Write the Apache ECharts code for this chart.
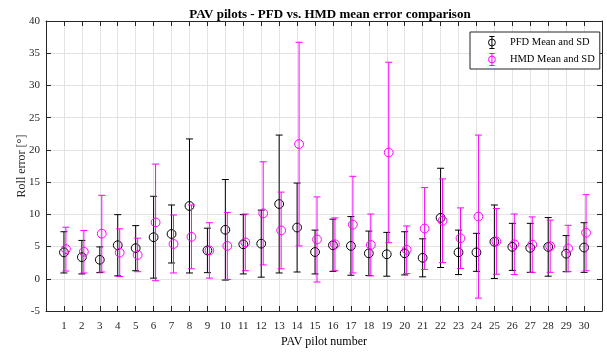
<!DOCTYPE html>
<html>
<head>
<meta charset="utf-8">
<script src="https://cdn.jsdelivr.net/npm/echarts@6/dist/echarts.min.js"></script>
<style>
  html, body { margin: 0; padding: 0; background: #fff; }
  #chart { width: 607px; height: 353px; }
</style>
</head>
<body>
<div id="chart"></div>
<script>
// pilot numbers and per-pilot mean / SD
const pilots = [1,2,3,4,5,6,7,8,9,10,11,12,13,14,15,16,17,18,19,20,21,22,23,24,25,26,27,28,29,30]
const pfdMean = [4.1,3.35,2.95,5.2,4.75,6.45,6.95,11.3,4.4,7.6,5.35,5.45,11.6,7.95,4.15,5.2,5.1,3.95,3.8,3.95,3.25,9.45,4.1,4.1,5.75,4.95,4.8,4.95,3.9,4.85]
const pfdSd = [3.2,2.6,2.0,4.75,3.5,6.35,4.5,10.4,3.45,7.8,4.6,5.2,10.7,6.9,3.4,4.05,4.55,3.45,3.4,3.35,2.95,7.7,3.45,2.95,5.7,3.65,3.8,4.55,2.8,3.85]
const hmdMean = [4.6,4.2,7.0,4.05,3.7,8.75,5.4,6.5,4.4,5.1,5.65,10.15,7.5,20.9,6.1,5.35,8.4,5.25,19.6,4.5,7.8,9.0,6.3,9.65,5.8,5.35,5.3,5.05,4.7,7.15]
const hmdSd = [3.4,3.3,5.95,3.7,2.6,9.05,4.5,4.95,4.3,5.2,4.4,8.0,5.95,15.8,6.6,4.1,7.5,4.8,14.0,3.7,6.35,6.5,4.7,12.65,5.1,4.7,4.3,4.05,3.6,5.9]
const yTicks = [-5,0,5,10,15,20,25,30,35,40]

const serif = '"Liberation Serif", "Times New Roman", serif'
const axisColor = '#262626'

// circle + vertical error bar with caps
function errorRender(color, offset) {
  return function (params, api) {
    const x = api.value(0) + offset
    const m = api.value(1), s = api.value(2)
    const hi = api.coord([x, m + s])
    const lo = api.coord([x, m - s])
    const mid = api.coord([x, m])
    const cap = 3.5
    const st = { stroke: color, lineWidth: 1, fill: null }
    return {
      type: 'group',
      children: [
        { type: 'line', shape: { x1: hi[0], y1: hi[1], x2: lo[0], y2: lo[1] }, style: st },
        { type: 'line', shape: { x1: hi[0] - cap, y1: hi[1], x2: hi[0] + cap, y2: hi[1] }, style: st },
        { type: 'line', shape: { x1: lo[0] - cap, y1: lo[1], x2: lo[0] + cap, y2: lo[1] }, style: st },
        { type: 'circle', shape: { cx: mid[0], cy: mid[1], r: 4.4 }, style: { stroke: color, lineWidth: 1, fill: 'none' } }
      ]
    }
  }
}

const iconPath = 'path://M2,0L8,0M5,0L5,14M2,14L8,14M9,7A4,4,0,1,1,1,7A4,4,0,1,1,9,7'

const chart = echarts.init(document.getElementById('chart'))
const option = {
  animation: false,
  title: {
    text: 'PAV pilots - PFD vs. HMD mean error comparison',
    left: 325, top: 3, textAlign: 'center',
    textStyle: { fontFamily: serif, fontSize: 13, fontWeight: 'bold', color: '#000' }
  },
  legend: {
    orient: 'vertical',
    left: 470, top: 32,
    backgroundColor: '#fff',
    borderColor: axisColor, borderWidth: 1,
    padding: [2, 5, 1, 16],
    itemGap: 0, itemWidth: 10, itemHeight: 12,
    textStyle: { fontFamily: serif, fontSize: 10.5, lineHeight: 11, color: '#000', padding: [0, 0, 0, 8] },
    data: [
      { name: 'PFD Mean and SD', icon: iconPath, itemStyle: { color: 'none', borderColor: '#000', borderWidth: 1 } },
      { name: 'HMD Mean and SD', icon: iconPath, itemStyle: { color: 'none', borderColor: '#ff00ff', borderWidth: 1 } }
    ]
  },
  grid: { left: 46, right: 5, top: 21, bottom: 40 },
  xAxis: [
    {
      type: 'value', min: 0, max: 31, interval: 1,
      name: 'PAV pilot number', nameLocation: 'middle', nameGap: 25, nameMoveOverlap: false,
      nameTextStyle: { fontFamily: serif, fontSize: 12, color: '#000' },
      axisLine: { onZero: false, lineStyle: { color: axisColor } },
      axisTick: { inside: true, length: 5, lineStyle: { color: axisColor } },
      axisLabel: {
        fontFamily: serif, fontSize: 11, color: axisColor, margin: 10,
        formatter: v => (pilots.includes(v) ? String(v) : '')
      },
      splitLine: { show: true, lineStyle: { color: '#e3e3e3' } }
    },
    {
      type: 'value', min: 0, max: 31, interval: 1, position: 'top',
      axisLine: { onZero: false, lineStyle: { color: axisColor } },
      axisTick: { inside: true, length: 5, lineStyle: { color: axisColor } },
      axisLabel: { show: false }, splitLine: { show: false }
    }
  ],
  yAxis: [
    {
      type: 'value', min: yTicks[0], max: yTicks[yTicks.length - 1], interval: 5,
      name: 'Roll error [°]', nameLocation: 'middle', nameGap: 18, nameMoveOverlap: false,
      nameTextStyle: { fontFamily: serif, fontSize: 12, color: axisColor },
      axisLine: { show: true, onZero: false, lineStyle: { color: axisColor } },
      axisTick: { show: true, inside: true, length: 5, lineStyle: { color: axisColor } },
      axisLabel: { fontFamily: serif, fontSize: 11, color: axisColor, margin: 6 },
      splitLine: { show: true, lineStyle: { color: '#e3e3e3' } }
    },
    {
      type: 'value', min: yTicks[0], max: yTicks[yTicks.length - 1], interval: 5, position: 'right',
      axisLine: { show: true, onZero: false, lineStyle: { color: axisColor } },
      axisTick: { show: true, inside: true, length: 5, lineStyle: { color: axisColor } },
      axisLabel: { show: false }, splitLine: { show: false }
    }
  ],
  series: [
    {
      name: 'PFD Mean and SD', type: 'custom', z: 3,
      renderItem: errorRender('#000000', 0),
      encode: { x: 0, y: [1] },
      data: pilots.map((p, i) => [p, pfdMean[i], pfdSd[i]])
    },
    {
      name: 'HMD Mean and SD', type: 'custom', z: 4,
      renderItem: errorRender('#ff00ff', 0.11),
      encode: { x: 0, y: [1] },
      data: pilots.map((p, i) => [p, hmdMean[i], hmdSd[i]])
    }
  ]
}
chart.setOption(option)
</script>
</body>
</html>
